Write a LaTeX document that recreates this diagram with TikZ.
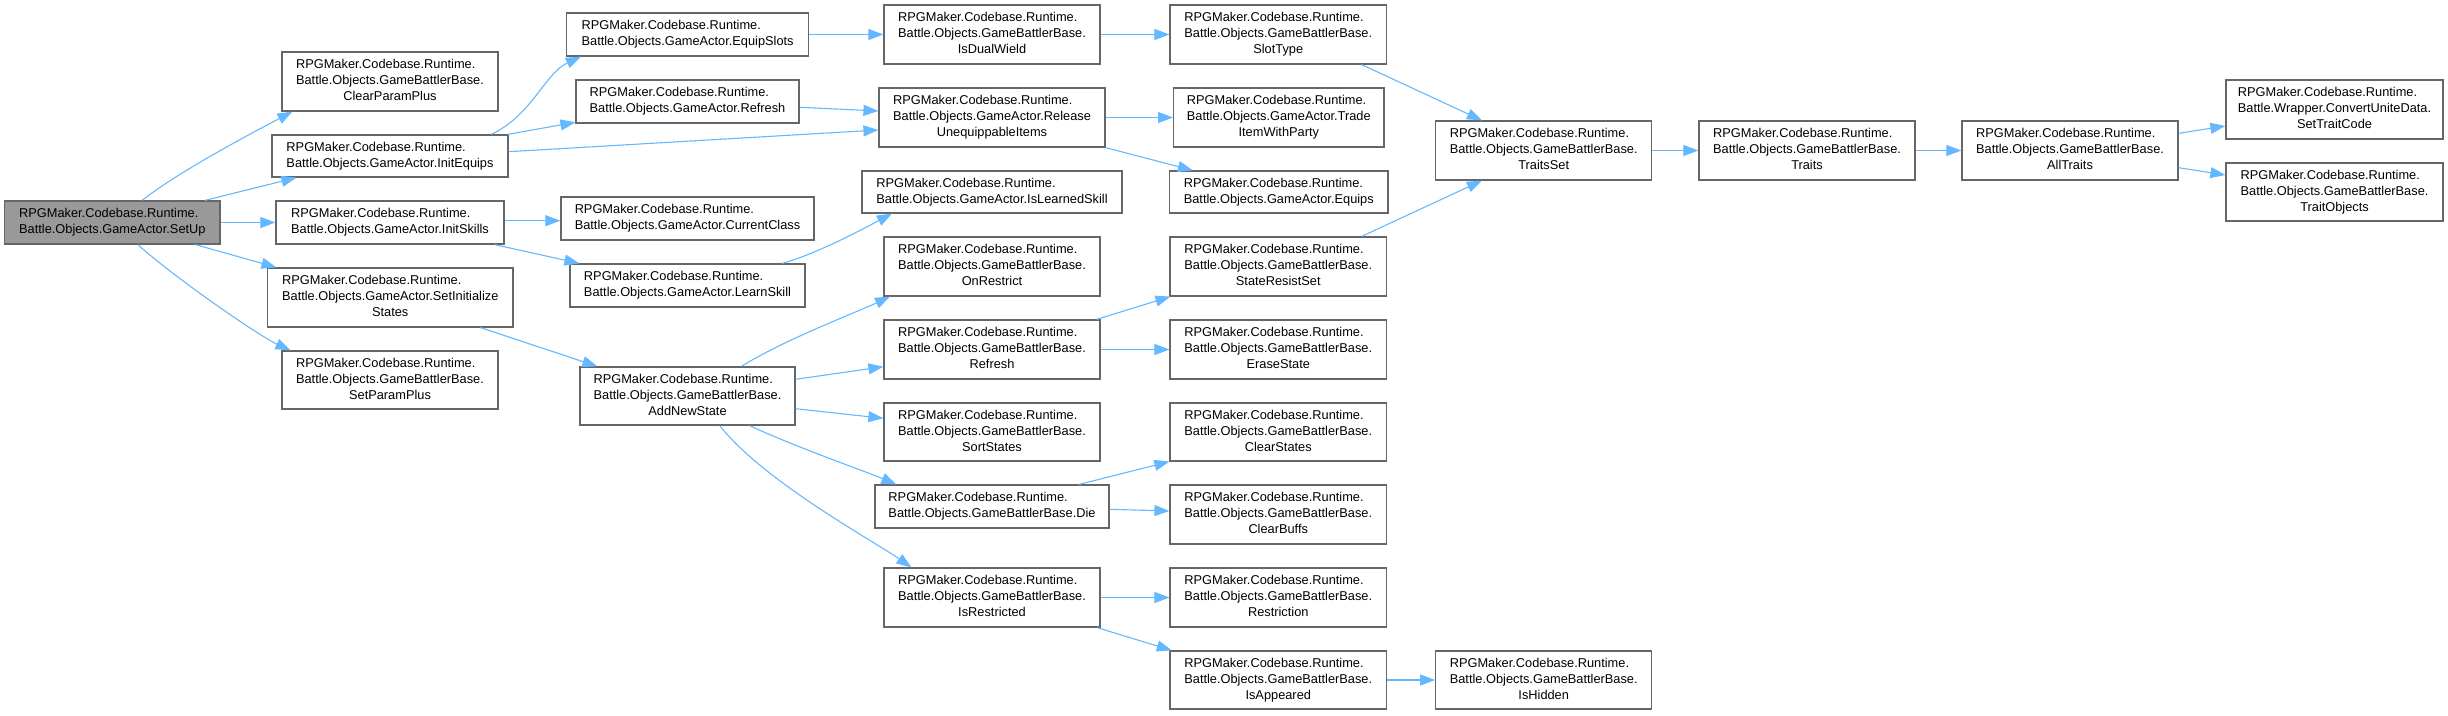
\documentclass[tikz,border=0pt]{standalone}
\usepackage{fontspec}
\setmainfont{Liberation Sans}
\usetikzlibrary{arrows.meta}
\definecolor{edgeblue}{HTML}{63B8FF}
\definecolor{boxgray}{HTML}{666666}
\definecolor{rootfill}{HTML}{999999}
\newcommand{\rpgm}{RPGMaker.Codebase.Runtime.}
\newcommand{\twol}[2]{\begin{tabular}{@{}l@{}}#1\\#2\end{tabular}}
\newcommand{\threel}[3]{\begin{tabular}{@{}l@{}}#1\\#2\\\multicolumn{1}{@{}c@{}}{#3}\end{tabular}}
\newcommand{\bx}[7][]{\node[box,#1,minimum width={(#5)-(#3)},minimum height={(#6)-(#4)}] (#2) at ({((#3)+(#5))/2},{-((#4)+(#6))/2}) {#7};}
\tikzset{
  box/.style={draw=boxgray, fill=white, line width=1.2pt, inner sep=0pt, text=black, font=\fontsize{12.8}{16}\selectfont},
  arr/.style={draw=edgeblue, line width=1.1pt, -{Triangle[length=15pt,width=11pt]}}
}
\begin{document}
\begin{tikzpicture}[x=1pt,y=1pt]
\useasboundingbox (0,0) rectangle (2448,-715);
% nodes
\bx[fill=rootfill]{setup}{4.7}{201}{220}{244}{\twol{\rpgm}{Battle.Objects.GameActor.SetUp}}
\bx{clearpp}{282}{52}{498}{111}{\threel{\rpgm}{Battle.Objects.GameBattlerBase.}{ClearParamPlus}}
\bx{initequips}{272}{135}{508}{177}{\twol{\rpgm}{Battle.Objects.GameActor.InitEquips}}
\bx{initskills}{276}{201}{504}{244}{\twol{\rpgm}{Battle.Objects.GameActor.InitSkills}}
\bx{setinit}{267.5}{268}{513}{327}{\threel{\rpgm}{Battle.Objects.GameActor.SetInitialize}{States}}
\bx{setpp}{282}{351}{498}{409}{\threel{\rpgm}{Battle.Objects.GameBattlerBase.}{SetParamPlus}}
\bx{equipslots}{566.5}{13}{808.7}{56}{\twol{\rpgm}{Battle.Objects.GameActor.EquipSlots}}
\bx{garefresh}{576}{80}{799}{123}{\twol{\rpgm}{Battle.Objects.GameActor.Refresh}}
\bx{currentclass}{561}{197}{814}{240}{\twol{\rpgm}{Battle.Objects.GameActor.CurrentClass}}
\bx{learnskill}{570}{264}{805}{307}{\twol{\rpgm}{Battle.Objects.GameActor.LearnSkill}}
\bx{addnewstate}{580}{367}{795}{425}{\threel{\rpgm}{Battle.Objects.GameBattlerBase.}{AddNewState}}
\bx{isdualwield}{884}{5}{1100}{64}{\threel{\rpgm}{Battle.Objects.GameBattlerBase.}{IsDualWield}}
\bx{release}{879}{88}{1105}{147}{\threel{\rpgm}{Battle.Objects.GameActor.Release}{UnequippableItems}}
\bx{islearned}{862}{171}{1122}{213}{\twol{\rpgm}{Battle.Objects.GameActor.IsLearnedSkill}}
\bx{onrestrict}{884}{237}{1100}{296}{\threel{\rpgm}{Battle.Objects.GameBattlerBase.}{OnRestrict}}
\bx{gbbrefresh}{884}{320}{1100}{379}{\threel{\rpgm}{Battle.Objects.GameBattlerBase.}{Refresh}}
\bx{sortstates}{884}{403}{1100}{461}{\threel{\rpgm}{Battle.Objects.GameBattlerBase.}{SortStates}}
\bx{die}{875}{485}{1109}{528}{\twol{\rpgm}{Battle.Objects.GameBattlerBase.Die}}
\bx{isrestricted}{884}{568}{1100}{627}{\threel{\rpgm}{Battle.Objects.GameBattlerBase.}{IsRestricted}}
\bx{slottype}{1170}{5}{1386.5}{64}{\threel{\rpgm}{Battle.Objects.GameBattlerBase.}{SlotType}}
\bx{trade}{1173.6}{88}{1384}{147}{\threel{\rpgm}{Battle.Objects.GameActor.Trade}{ItemWithParty}}
\bx{equips}{1169.5}{171}{1388}{213}{\twol{\rpgm}{Battle.Objects.GameActor.Equips}}
\bx{stateresist}{1170}{237}{1386.5}{296}{\threel{\rpgm}{Battle.Objects.GameBattlerBase.}{StateResistSet}}
\bx{erasestate}{1170}{320}{1386.5}{379}{\threel{\rpgm}{Battle.Objects.GameBattlerBase.}{EraseState}}
\bx{clearstates}{1170}{403}{1386.5}{461}{\threel{\rpgm}{Battle.Objects.GameBattlerBase.}{ClearStates}}
\bx{clearbuffs}{1170}{485}{1386.5}{544}{\threel{\rpgm}{Battle.Objects.GameBattlerBase.}{ClearBuffs}}
\bx{restriction}{1170}{568}{1386.5}{627}{\threel{\rpgm}{Battle.Objects.GameBattlerBase.}{Restriction}}
\bx{isappeared}{1170}{651}{1386.5}{709}{\threel{\rpgm}{Battle.Objects.GameBattlerBase.}{IsAppeared}}
\bx{traitsset}{1435.7}{121}{1651.7}{180}{\threel{\rpgm}{Battle.Objects.GameBattlerBase.}{TraitsSet}}
\bx{ishidden}{1435.7}{651}{1651.7}{709}{\threel{\rpgm}{Battle.Objects.GameBattlerBase.}{IsHidden}}
\bx{traits}{1699}{121}{1915}{180}{\threel{\rpgm}{Battle.Objects.GameBattlerBase.}{Traits}}
\bx{alltraits}{1962}{121}{2178}{180}{\threel{\rpgm}{Battle.Objects.GameBattlerBase.}{AllTraits}}
\bx{settraitcode}{2226}{80}{2443}{139}{\threel{\rpgm}{Battle.Wrapper.ConvertUniteData.}{SetTraitCode}}
\bx{traitobjects}{2226}{163}{2443}{221}{\threel{\rpgm}{Battle.Objects.GameBattlerBase.}{TraitObjects}}
% edges
\draw[arr] ([xshift=29.7pt]setup.north) .. controls +(38:50pt) and +(208:40pt) .. ([xshift=11pt]clearpp.south west);
\draw[arr] ([xshift=92.7pt]setup.north) -- ([xshift=25pt]initequips.south west);
\draw[arr] (setup.east) -- (initskills.west);
\draw[arr] ([xshift=83pt]setup.south) -- ([xshift=9.5pt]setinit.north west);
\draw[arr] ([xshift=25.5pt]setup.south) .. controls +(-42:50pt) and +(155:35pt) .. ([xshift=9pt]setpp.north west);
\draw[arr] ([xshift=-17.4pt]initequips.north east) .. controls +(25:45pt) and +(205:40pt) .. ([xshift=15pt]equipslots.south west);
\draw[arr] ([xshift=-1pt]initequips.north east) -- ([yshift=1.3pt]garefresh.south west);
\draw[arr] ([yshift=4.3pt]initequips.east) -- ([yshift=-12.5pt]release.west);
\draw[arr] ([yshift=1.8pt]initskills.east) -- ([yshift=-2.2pt]currentclass.west);
\draw[arr] ([xshift=-10pt]initskills.south east) -- ([xshift=10pt]learnskill.north west);
\draw[arr] ([xshift=-33pt]setinit.south east) -- ([xshift=18pt]addnewstate.north west);
\draw[arr] (equipslots.east) -- (isdualwield.west);
\draw[arr] ([yshift=-5.8pt]garefresh.east) -- ([yshift=6.5pt]release.west);
\draw[arr] (isdualwield.east) -- (slottype.west);
\draw[arr] (release.east) -- (trade.west);
\draw[arr] (release.south east) -- ([xshift=24pt]equips.north west);
\draw[arr] ([xshift=-23.5pt]learnskill.north east) .. controls +(15:35pt) and +(208:30pt) .. ([xshift=30.5pt]islearned.south west);
\draw[arr] ([xshift=53.9pt]addnewstate.north) .. controls +(32:50pt) and +(205:40pt) .. ([xshift=6.6pt]onrestrict.south west);
\draw[arr] ([yshift=16.7pt]addnewstate.east) -- ([yshift=-17.2pt]gbbrefresh.west);
\draw[arr] ([yshift=-12.7pt]addnewstate.east) -- ([yshift=13.7pt]sortstates.west);
\draw[arr] ([xshift=62pt]addnewstate.south) .. controls +(-25:50pt) and +(157:30pt) .. ([xshift=22pt]die.north west);
\draw[arr] ([xshift=32.2pt]addnewstate.south) .. controls +(-52:70pt) and +(145:45pt) .. ([xshift=28pt]isrestricted.north west);
\draw[arr] ([xshift=-4pt]gbbrefresh.north east) -- ([xshift=1pt]stateresist.south west);
\draw[arr] (gbbrefresh.east) -- (erasestate.west);
\draw[arr] ([xshift=-30.5pt]die.north east) -- (clearstates.south west);
\draw[arr] ([yshift=-2.8pt]die.east) -- ([yshift=3.5pt]clearbuffs.west);
\draw[arr] (isrestricted.east) -- (restriction.west);
\draw[arr] ([xshift=-3.6pt]isrestricted.south east) -- ([xshift=2.4pt]isappeared.north west);
\draw[arr] (isappeared.east) -- (ishidden.west);
\draw[arr] ([xshift=-25.5pt]slottype.south east) -- ([xshift=46.8pt]traitsset.north west);
\draw[arr] ([xshift=-25.5pt]stateresist.north east) -- ([xshift=46.8pt]traitsset.south west);
\draw[arr] (traitsset.east) -- (traits.west);
\draw[arr] (traits.east) -- (alltraits.west);
\draw[arr] ([yshift=17.2pt]alltraits.east) -- ([yshift=-16.5pt]settraitcode.west);
\draw[arr] ([yshift=-17.2pt]alltraits.east) -- ([yshift=17pt]traitobjects.west);
\end{tikzpicture}
\end{document}
